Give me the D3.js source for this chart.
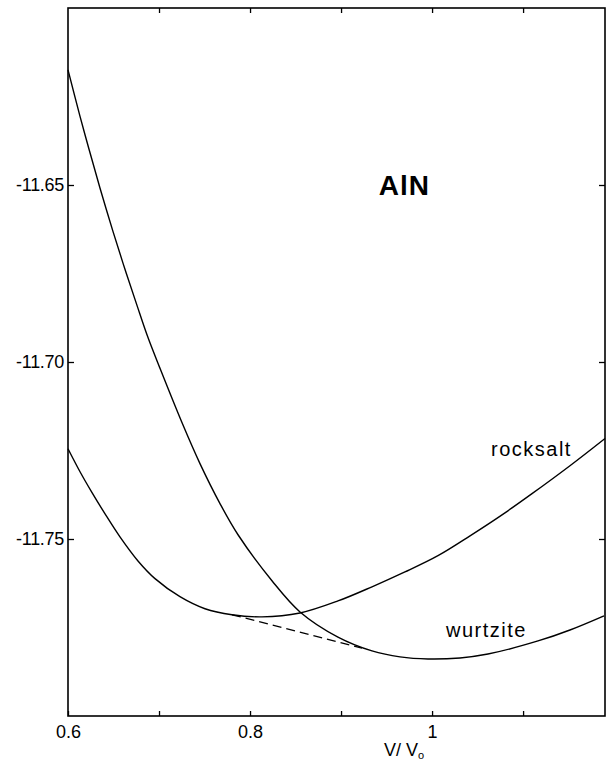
<!DOCTYPE html>
<html><head><meta charset="utf-8">
<script src="https://cdn.jsdelivr.net/npm/d3@7"></script>
<style>
body{margin:0;background:#fff}
svg{display:block}
text{font-family:"Liberation Sans",Arial,Helvetica,sans-serif;fill:#000}
</style>
</head><body>
<svg id="chart" width="610" height="765"></svg>
<script>
// ---- data ----
const wurtziteV = [0.600,0.6132,0.6231,0.6352,0.6494,0.6626,0.6758,0.6879,0.7011,0.7252,0.7450,0.7670,0.7868,0.8241,0.8549,0.8966,0.9340,0.9648,0.9955,1.0307,1.0614,1.1164,1.1515,1.1889];
const wurtziteE = [-11.6175,-11.6306,-11.6399,-11.6509,-11.6631,-11.6738,-11.6840,-11.6931,-11.7018,-11.7171,-11.7287,-11.7400,-11.7488,-11.7618,-11.7706,-11.7777,-11.7816,-11.7833,-11.7839,-11.7836,-11.7825,-11.7788,-11.7757,-11.7717];
const rocksaltV = [0.600,0.6132,0.6264,0.6407,0.6571,0.6769,0.6956,0.7230,0.7505,0.7802,0.8131,0.8549,0.8966,0.9340,0.9702,1.0065,1.0417,1.0801,1.1098,1.1515,1.1900];
const rocksaltE = [-11.7245,-11.7310,-11.7369,-11.7429,-11.7494,-11.7562,-11.7612,-11.7663,-11.7697,-11.7714,-11.7720,-11.7709,-11.7675,-11.7635,-11.7593,-11.7547,-11.7491,-11.7426,-11.7372,-11.7293,-11.7216];
const tangentV = [0.7802, 0.9230];
const tangentE = [-11.7714, -11.7808];
const xTickValues = [0.6,0.7,0.8,0.9,1.0,1.1];
const xTickLabels = ["0.6","","0.8","","1",""];
const yTickValues = [-11.65,-11.70,-11.75];
const yTickLabels = ["-11.65","-11.70","-11.75"];
const xDomain = [0.6, 1.19];
const yDomain = [-11.80, -11.60];

// ---- layout ----
const svg = d3.select("#chart");
const L = 68, R = 605, T = 8, B = 716;
const x = d3.scaleLinear().domain(xDomain).range([L, R]);
const y = d3.scaleLinear().domain(yDomain).range([B, T]);

// frame
svg.append("rect").attr("x", L).attr("y", T).attr("width", R - L).attr("height", B - T)
  .attr("fill", "none").attr("stroke", "#000").attr("stroke-width", 1.6);

// axes
const gB = svg.append("g").attr("transform", `translate(0,${B})`)
  .call(d3.axisBottom(x).tickValues(xTickValues).tickFormat((d,i)=>xTickLabels[i]).tickSizeInner(-5).tickSizeOuter(0).tickPadding(9));
const gT = svg.append("g").attr("transform", `translate(0,${T})`)
  .call(d3.axisTop(x).tickValues(xTickValues.slice(1)).tickFormat("").tickSizeInner(-5).tickSizeOuter(0));
const gL = svg.append("g").attr("transform", `translate(${L},0)`)
  .call(d3.axisLeft(y).tickValues(yTickValues).tickFormat((d,i)=>yTickLabels[i]).tickSizeInner(-6).tickSizeOuter(0).tickPadding(4));
const gR = svg.append("g").attr("transform", `translate(${R},0)`)
  .call(d3.axisRight(y).tickValues(yTickValues).tickFormat("").tickSizeInner(-6).tickSizeOuter(0));
[gB,gT,gL,gR].forEach(g=>{
  g.select(".domain").remove();
  g.selectAll(".tick line").attr("stroke","#000").attr("stroke-width",1.3);
  g.selectAll("text").attr("font-size",18).attr("font-family",'"Liberation Sans",Arial,sans-serif').attr("fill","#000");
});
gL.selectAll("text").attr("letter-spacing", -0.3);

// curves
const line = d3.line().x(d=>x(d[0])).y(d=>y(d[1])).curve(d3.curveCatmullRom.alpha(0.5));
const wz = wurtziteV.map((v,i)=>[v, wurtziteE[i]]);
const rs = rocksaltV.map((v,i)=>[v, rocksaltE[i]]);
const tg = tangentV.map((v,i)=>[v, tangentE[i]]);
svg.append("path").attr("d", line(wz)).attr("fill","none").attr("stroke","#000").attr("stroke-width",1.4);
svg.append("path").attr("d", line(rs)).attr("fill","none").attr("stroke","#000").attr("stroke-width",1.4);
svg.append("path").attr("d", d3.line().x(d=>x(d[0])).y(d=>y(d[1]))(tg)).attr("fill","none")
  .attr("stroke","#000").attr("stroke-width",1.3).attr("stroke-dasharray","9,5");

// labels
svg.append("text").attr("x", 430).attr("y", 195).attr("text-anchor","end")
  .attr("font-size", 28).attr("font-weight","bold").attr("letter-spacing", 1).text("AlN");
svg.append("text").attr("x", 491).attr("y", 456).attr("font-size", 20).attr("letter-spacing", 1.5).text("rocksalt");
svg.append("text").attr("x", 446).attr("y", 637).attr("font-size", 20).attr("letter-spacing", 1.5).text("wurtzite");

// x axis title V/ V0
const tt = svg.append("text").attr("x", 404).attr("y", 756).attr("text-anchor","middle").attr("font-size", 18);
tt.append("tspan").text("V/ V");
tt.append("tspan").attr("dy", 3).attr("font-size", 11).text("o");
</script>
</body></html>
